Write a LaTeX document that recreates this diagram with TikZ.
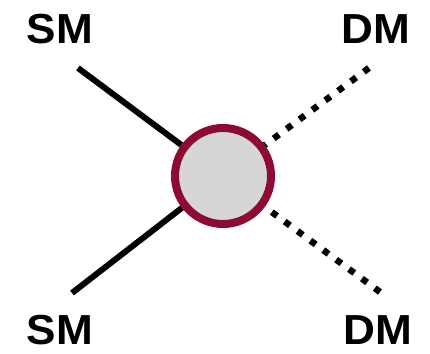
\documentclass[tikz,border=0pt]{standalone}
\usepackage{fontspec}
\setmainfont{Liberation Sans}
\definecolor{blobred}{HTML}{8E0A33}
\definecolor{blobgray}{HTML}{D6D6D6}

\begin{document}
\begin{tikzpicture}[x=1pt,y=1pt]
\tikzstyle{label}=[font=\bfseries\fontsize{42}{42}\selectfont,xscale=1.05,inner sep=0pt]
\tikzstyle{blob}=[circle,draw=blobred,fill=blobgray,line width=8pt,minimum size=96pt,inner sep=0pt,outer sep=4pt]
\tikzstyle{sm}=[line width=6pt]
\tikzstyle{dm}=[line width=6.5pt,dash pattern=on 6.5pt off 9.5pt]
\useasboundingbox (0,0) rectangle (430,353);
\node[blob] (V) at (223,177) {};
\coordinate (SM_1) at (78,285);
\coordinate (SM_2) at (72,60);
\coordinate (DM_1) at (369,285);
\coordinate (DM_2) at (380,61);
\node[label] (L_1) at (60,324) {SM};
\node[label] (L_2) at (376,324) {DM};
\node[label] (L_3) at (60,23)  {SM};
\node[label] (L_4) at (378,23) {DM};
\draw[sm] (SM_1) -- (V);
\draw[sm] (SM_2) -- (V);
% dots start at the outer ends
\draw[dm] (DM_1) -- (V);
\draw[dm] (DM_2) -- (V);
\end{tikzpicture}
\end{document}
